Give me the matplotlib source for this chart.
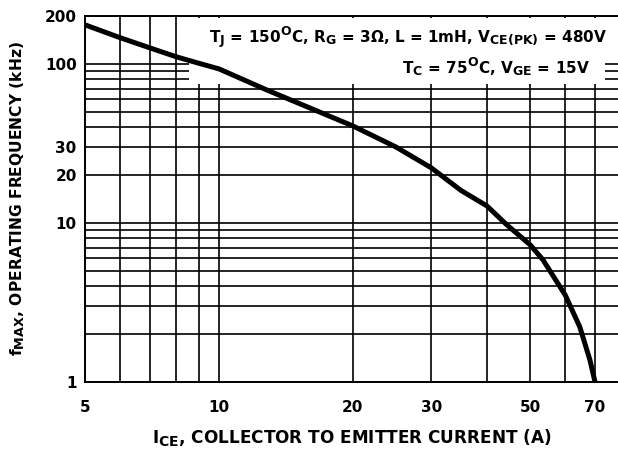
import matplotlib
matplotlib.use("Agg")
import matplotlib.pyplot as plt
from matplotlib.ticker import FixedLocator, FixedFormatter, NullFormatter
from matplotlib.patches import Rectangle
try:
    import matplotlib._mathtext as _mt
    _mt.SHRINK_FACTOR = 0.82
except Exception:
    pass

# data
ice = [5, 6, 7, 8, 9, 10, 12.8, 15, 20, 25, 30, 35, 40, 44.4, 50, 53.5, 60, 64.7, 68.2, 70]
fmax = [176, 146, 126, 111, 101, 93, 68.6, 57, 40.7, 30, 22.2, 16.0, 12.8, 9.7, 7.3, 5.85, 3.52, 2.22, 1.37, 1.0]

x_ticks = [5, 10, 20, 30, 50, 70]
x_tick_labels = ["5", "10", "20", "30", "50", "70"]
y_ticks = [1, 10, 20, 30, 100, 200]
y_tick_labels = ["1", "10", "20", "30", "100", "200"]
x_grid = [5, 6, 7, 8, 9, 10, 20, 30, 40, 50, 60, 70]
y_grid = [1, 2, 3, 4, 5, 6, 7, 8, 9, 10, 20, 30, 40, 50, 60, 70, 80, 90, 100, 200]

line1 = r"$T_J$ = 150$^O$C, $R_G$ = 3Ω, L = 1mH, $V_{CE(PK)}$ = 480V"
line2 = r"$T_C$ = 75$^O$C, $V_{GE}$ = 15V"
xlabel = r"$I_{CE}$, COLLECTOR TO EMITTER CURRENT (A)"
ylabel = r"$f_{MAX}$, OPERATING FREQUENCY (kHz)"

FONT = "DejaVu Sans"
plt.rcParams["font.family"] = [FONT]
plt.rcParams["font.weight"] = "bold"
plt.rcParams["mathtext.fontset"] = "custom"
plt.rcParams["mathtext.rm"] = FONT + ":bold"
plt.rcParams["mathtext.it"] = FONT + ":bold"
plt.rcParams["mathtext.bf"] = FONT + ":bold"
plt.rcParams["mathtext.default"] = "rm"

FS = 11

W, H = 618, 457
fig = plt.figure(figsize=(W / 100, H / 100), dpi=100)
L, R, T, B = 85, 618, 16, 382
ax = fig.add_axes([L / W, (H - B) / H, (R - L) / W, (B - T) / H])
ax.set_xscale("log")
ax.set_yscale("log")
ax.set_xlim(5, 5 * 10 ** ((R - L) / 445))
ax.set_ylim(1, 200)

ax.spines["right"].set_visible(False)
for s in ["left", "bottom", "top"]:
    ax.spines[s].set_linewidth(1.4)

for xv in x_grid:
    ax.axvline(xv, color="black", lw=1.2, zorder=1)
for yv in y_grid:
    ax.axhline(yv, color="black", lw=1.2, zorder=1)

# white box behind annotation
ax.add_patch(Rectangle((0.195, 0.814), 0.976 - 0.195, 0.995 - 0.814,
                       transform=ax.transAxes, facecolor="white",
                       edgecolor="none", zorder=2))

ax.plot(ice, fmax, color="black", lw=3.6, zorder=3, solid_capstyle="butt",
        solid_joinstyle="round")

ax.xaxis.set_major_locator(FixedLocator(x_ticks))
ax.xaxis.set_major_formatter(FixedFormatter(x_tick_labels))
ax.xaxis.set_minor_locator(FixedLocator([]))
ax.xaxis.set_minor_formatter(NullFormatter())
ax.yaxis.set_major_locator(FixedLocator(y_ticks))
ax.yaxis.set_major_formatter(FixedFormatter(y_tick_labels))
ax.yaxis.set_minor_locator(FixedLocator([]))
ax.yaxis.set_minor_formatter(NullFormatter())
ax.tick_params(axis="both", length=0, labelsize=FS)
ax.tick_params(axis="x", pad=13)
ax.tick_params(axis="y", pad=6)
for lbl in ax.get_xticklabels() + ax.get_yticklabels():
    lbl.set_fontweight("bold")

fig.text(607 / W, 1 - 43 / H, line1, ha="right", va="baseline",
         fontsize=FS, fontweight="bold", zorder=5)
fig.text(590 / W, 1 - 73 / H, line2, ha="right", va="baseline",
         fontsize=FS, fontweight="bold", zorder=5)

fig.text(352 / W, 1 - 437 / H, xlabel, ha="center", va="center",
         fontsize=12.2, fontweight="bold")
fig.text(18 / W, 1 - 199 / H, ylabel, ha="center", va="center",
         rotation=90, fontsize=11.2, fontweight="bold")

fig.savefig("out.png", dpi=100)
